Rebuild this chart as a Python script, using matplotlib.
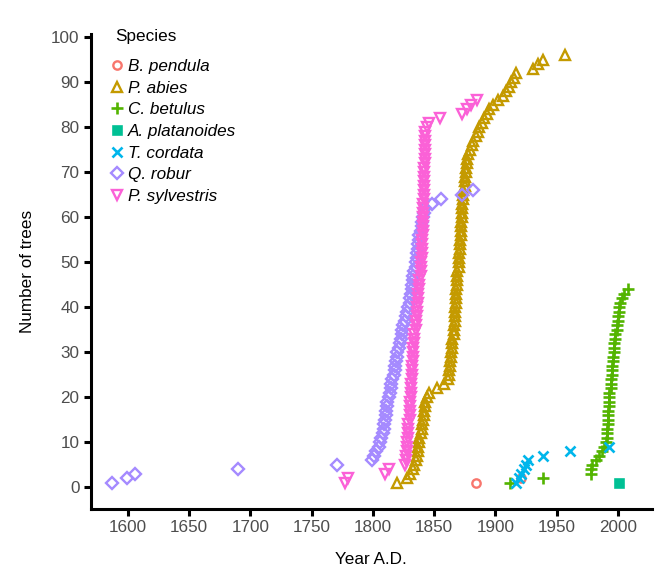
import numpy as np
import matplotlib
matplotlib.use("Agg")
import matplotlib.pyplot as plt

plt.rcParams["font.family"] = ["Liberation Sans", "DejaVu Sans"]

# Data: establishment year of each tree, ordered; y is the running count
species = ["B. pendula", "P. abies", "C. betulus", "A. platanoides",
           "T. cordata", "Q. robur", "P. sylvestris"]

b_pendula = [1884, 1921]

p_abies = [1820, 1828, 1830, 1833, 1834, 1835, 1836, 1837, 1837, 1838,
           1838, 1839, 1840, 1840, 1841, 1842, 1842, 1843, 1843, 1844,
           1846, 1852, 1858, 1861, 1862, 1862, 1863, 1863, 1864, 1864,
           1865, 1865, 1865, 1866, 1866, 1866, 1867, 1867, 1867, 1867,
           1868, 1868, 1868, 1868, 1869, 1869, 1869, 1869, 1870, 1870,
           1870, 1870, 1871, 1871, 1871, 1872, 1872, 1872, 1872, 1873,
           1873, 1873, 1873, 1874, 1874, 1874, 1875, 1875, 1875, 1876,
           1876, 1877, 1877, 1878, 1879, 1881, 1882, 1884, 1886, 1887,
           1889, 1891, 1893, 1895, 1898, 1902, 1906, 1909, 1911, 1913,
           1915, 1917, 1931, 1935, 1939, 1957]

c_betulus = [1912, 1939, 1978, 1978, 1979, 1982, 1985, 1987, 1989, 1990,
             1991, 1991, 1991, 1992, 1992, 1992, 1992, 1993, 1993, 1993,
             1993, 1994, 1994, 1994, 1995, 1995, 1995, 1996, 1996, 1997,
             1997, 1997, 1998, 1998, 1999, 1999, 2000, 2000, 2001, 2001,
             2002, 2003, 2005, 2008]

a_platanoides = [2001]

t_cordata = [1917, 1919, 1921, 1923, 1925, 1927, 1939, 1961, 1993]

q_robur = [1587, 1599, 1606, 1690, 1771, 1799, 1801, 1803, 1805, 1806,
           1807, 1808, 1809, 1809, 1810, 1811, 1811, 1812, 1812, 1813,
           1814, 1815, 1815, 1816, 1817, 1818, 1818, 1819, 1820, 1820,
           1821, 1822, 1823, 1824, 1824, 1825, 1826, 1827, 1828, 1829,
           1830, 1830, 1831, 1832, 1832, 1833, 1833, 1834, 1835, 1835,
           1836, 1836, 1837, 1837, 1838, 1838, 1839, 1840, 1840, 1841,
           1842, 1843, 1848, 1856, 1873, 1882]

p_sylvestris = [1777, 1780, 1810, 1813, 1826, 1827, 1827, 1828, 1828, 1828,
                1829, 1829, 1829, 1829, 1830, 1830, 1830, 1830, 1830, 1831,
                1831, 1831, 1831, 1832, 1832, 1832, 1832, 1833, 1833, 1833,
                1833, 1834, 1834, 1834, 1835, 1835, 1835, 1836, 1836, 1836,
                1837, 1837, 1837, 1838, 1838, 1838, 1839, 1839, 1839, 1839,
                1840, 1840, 1840, 1840, 1840, 1841, 1841, 1841, 1841, 1841,
                1841, 1841, 1841, 1842, 1842, 1842, 1842, 1842, 1842, 1842,
                1842, 1843, 1843, 1843, 1843, 1843, 1843, 1843, 1843, 1844,
                1846, 1855, 1873, 1877, 1880, 1885]

years = [b_pendula, p_abies, c_betulus, a_platanoides,
         t_cordata, q_robur, p_sylvestris]

colors = ["#F8766D", "#C49A00", "#53B400", "#00C094",
          "#00B6EB", "#A58AFF", "#FB61D7"]
markers = ["o", "^", "+", "s", "x", "D", "v"]
filled = [False, False, True, True, True, False, False]
sizes = [6, 7, 8, 5.3, 7, 6, 7]

# Figure ------------------------------------------------
fig = plt.figure(figsize=(6.56, 5.71), dpi=100)
ax = fig.add_axes([0.1383, 0.1086, 0.8551, 0.8324])

for name, yrs, col, mk, fl, ms in zip(species, years, colors, markers, filled, sizes):
    x = np.array(yrs)
    y = np.arange(1, len(x) + 1)
    if fl:
        ax.plot(x, y, linestyle="none", marker=mk, color=col, markersize=ms,
                markeredgewidth=1.9, label=name)
    else:
        ax.plot(x, y, linestyle="none", marker=mk, markerfacecolor="none",
                markeredgecolor=col, markersize=ms, markeredgewidth=1.7,
                label=name)

ax.set_xlim(1569.8, 2027.6)
ax.set_ylim(-4.8, 100.8)
ax.set_xticks(np.arange(1600, 2001, 50))
ax.set_yticks(np.arange(0, 101, 10))

for side in ["top", "right"]:
    ax.spines[side].set_visible(False)
for side in ["left", "bottom"]:
    ax.spines[side].set_linewidth(2.2)
ax.tick_params(width=2.2, length=5, color="black", labelsize=12.3,
               labelcolor="#4D4D4D", pad=3)

ax.set_xlabel("Year A.D.", fontsize=12.3, labelpad=12.5)
ax.set_ylabel("Number of trees", fontsize=12.3, labelpad=11.5)

# legend: title placed separately so the gap matches
fig.text(115 / 656, 1 - 37 / 571, "Species", fontsize=12.3, va="center", ha="left")
leg = fig.legend(loc="upper left", bbox_to_anchor=(108 / 656, 1 - 59 / 571),
                 frameon=False, fontsize=12.3, borderpad=0, borderaxespad=0,
                 handletextpad=0.15, labelspacing=0.39, handlelength=1.0)
for t in leg.get_texts():
    t.set_fontstyle("italic")

fig.savefig("out.png", dpi=100)
